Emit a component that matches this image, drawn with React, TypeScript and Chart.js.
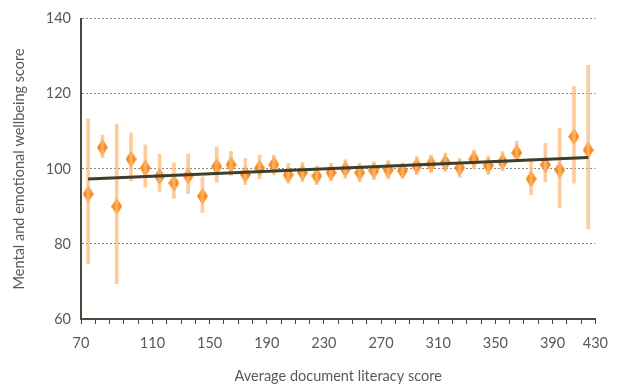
import { useEffect, useRef } from 'react';
import { Chart, registerables } from 'chart.js';

Chart.register(...registerables);

// Bin centres of average document literacy score
const binCentres = [75, 85, 95, 105, 115, 125, 135, 145, 155, 165, 175, 185, 195, 205, 215, 225, 235, 245, 255, 265, 275, 285, 295, 305, 315, 325, 335, 345, 355, 365, 375, 385, 395, 405, 415, 425];
// Mean mental and emotional wellbeing score per bin
const meanScores = [93.3, 105.7, 90.0, 102.6, 100.2, 98.0, 96.2, 98.1, 92.7, 100.6, 101.1, 98.5, 100.2, 101.1, 98.4, 99.0, 98.1, 99.0, 99.9, 99.0, 99.5, 99.7, 99.5, 100.8, 101.3, 101.7, 100.3, 102.6, 100.9, 101.9, 104.3, 97.3, 101.1, 99.7, 108.6, 105.0];
const lowerBounds = [74.7, 103.0, 69.4, 96.8, 95.1, 94.0, 92.1, 93.4, 88.4, 96.4, 98.2, 95.8, 97.3, 98.4, 96.2, 96.6, 95.8, 96.8, 97.5, 96.6, 97.1, 97.3, 97.5, 98.4, 98.9, 99.3, 97.8, 100.0, 98.6, 99.5, 101.9, 93.1, 96.5, 89.7, 96.2, 84.0];
const upperBounds = [113.3, 109.0, 111.9, 109.6, 106.4, 103.9, 101.6, 104.0, 97.9, 105.8, 104.7, 102.8, 103.7, 103.7, 101.5, 101.7, 100.8, 101.5, 102.4, 101.5, 101.9, 102.2, 101.5, 103.3, 103.7, 104.2, 102.8, 105.0, 103.4, 104.6, 107.4, 102.8, 106.8, 110.8, 122.0, 127.6];
// Linear trend end points
const trendX = [75, 425];
const trendY = [97.3, 103.0];
// Axis tick labels
const xTickLabels = ['70', '110', '150', '190', '230', '270', '310', '350', '390', '430'];
const xTickAt = [70, 120, 160, 200, 240, 280, 320, 360, 400, 430];

const TEXT = '#58595b';
const AXIS = '#4a4a3a';
const FONT = { family: 'Lato', size: 14.5 };

function makeDiamond(): HTMLCanvasElement {
  const c = document.createElement('canvas');
  c.width = 11;
  c.height = 17;
  const g = c.getContext('2d')!;
  g.fillStyle = '#f68b1f';
  g.beginPath();
  g.moveTo(5.5, 0);
  g.lineTo(11, 8.5);
  g.lineTo(5.5, 17);
  g.lineTo(0, 8.5);
  g.closePath();
  g.fill();
  return c;
}

export default function App() {
  const ref = useRef<HTMLCanvasElement>(null);

  useEffect(() => {
    if (!ref.current) return;
    const diamond = makeDiamond();
    const chart = new Chart(ref.current, {
      type: 'scatter',
      data: {
        datasets: [
          {
            type: 'line',
            data: trendX.map((x, i) => ({ x, y: trendY[i] })),
            borderColor: '#3f3e2d',
            borderWidth: 3,
            pointRadius: 0,
            fill: false,
            order: 0,
          } as any,
          {
            type: 'bar',
            data: binCentres.map((x, i) => ({ x, y: [lowerBounds[i], upperBounds[i]] })),
            backgroundColor: 'rgba(252,184,118,0.72)',
            borderWidth: 0,
            barThickness: 3,
            grouped: false,
            order: 1,
          } as any,
          {
            type: 'scatter',
            data: binCentres.map((x, i) => ({ x, y: meanScores[i] })),
            pointStyle: diamond,
            pointRadius: 8,
            order: 2,
          } as any,
        ],
      },
      options: {
        responsive: false,
        animation: false,
        events: [],
        layout: { padding: { top: 18, right: 19, left: 0, bottom: 0 } },
        plugins: { legend: { display: false }, tooltip: { enabled: false } },
        scales: {
          x: {
            type: 'linear',
            min: 70,
            max: 430,
            offset: false,
            afterFit: (s: any) => {
              s.height = 66;
            },
            ticks: {
              stepSize: 10,
              autoSkip: false,
              maxRotation: 0,
              padding: 11,
              color: TEXT,
              font: FONT,
              callback: (v: any) => {
                const i = xTickAt.indexOf(Math.round(Number(v)));
                return i >= 0 ? xTickLabels[i] : '';
              },
            },
            grid: {
              offset: false,
              drawOnChartArea: false,
              drawTicks: true,
              tickLength: 5,
              color: AXIS,
              lineWidth: 1,
            },
            border: { display: true, color: AXIS, width: 2 },
            title: {
              display: true,
              text: 'Average document literacy score',
              color: TEXT,
              font: FONT,
              padding: { top: 0, bottom: 0 },
            },
          },
          y: {
            type: 'linear',
            min: 60,
            max: 140,
            afterFit: (s: any) => {
              s.width = 81;
            },
            ticks: {
              stepSize: 20,
              padding: 10,
              color: TEXT,
              font: FONT,
            },
            grid: {
              drawTicks: false,
              color: '#8a8a80',
              lineWidth: 1,
            },
            border: { display: true, color: AXIS, width: 2, dash: [2, 2] },
            title: {
              display: true,
              text: 'Mental and emotional wellbeing score',
              color: TEXT,
              font: FONT,
              padding: { top: 11, bottom: 0 },
            },
          },
        },
      },
    });
    return () => chart.destroy();
  }, []);

  return (
    <div style={{ position: 'fixed', left: 0, top: 0, width: 619, height: 385, background: '#fff' }}>
      <canvas ref={ref} width={619} height={385} style={{ display: 'block' }} />
    </div>
  );
}
